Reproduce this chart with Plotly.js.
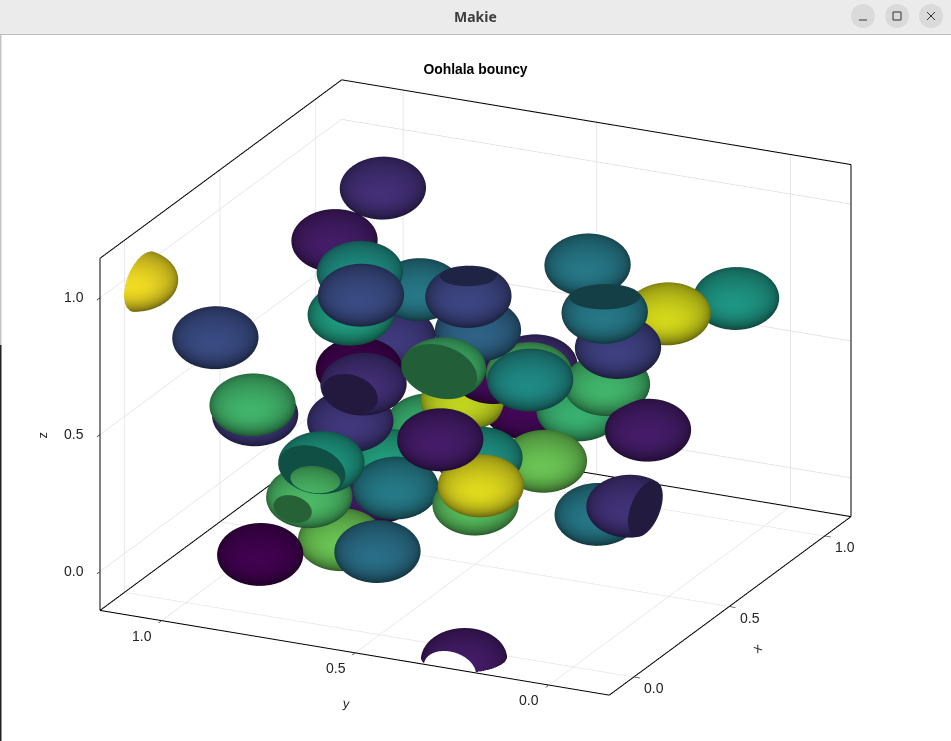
<!DOCTYPE html>
<html>
<head>
<meta charset="utf-8">
<script src="https://cdn.plot.ly/plotly-3.0.1.min.js"></script>
<style>html,body{margin:0;padding:0;background:#fff;overflow:hidden}#chart{width:951px;height:741px}</style>
</head>
<body>
<div id="chart"></div>
<script>
// sphere centres and colour values
const xs = [.739,.581,.470,.342,.469,.721,.888,.451,.544,.860,.666,.761,.696,.598,.627,.481,.350,.222,.472,.625,.341,.492,.465,.595,.224,.254,.339,.234,.139,.249,.162,.307,.096,-.049,.805,.487,.569,.645,.789,.596,.734,.960,.815,.654,.500,.853,.639,.487];
const ys = [.856,.903,.783,.717,.806,.909,.905,.764,.844,.798,.804,.658,.548,.541,.707,.508,.509,.453,.475,.384,.407,.495,.688,.799,.761,.807,.767,.621,.877,1.047,.908,.973,1.179,.258,.360,.159,.165,.231,.373,.101,.118,.053,.502,.437,.358,.541,.252,.095];
const zs = [1.025,.904,.873,.871,.715,.362,.393,.479,.277,.112,.080,.287,.446,.652,.747,.844,.647,.467,.266,.197,.248,.083,.110,.002,.310,.159,-.032,.013,-.009,.686,.518,.392,.943,-.150,.827,.865,.693,.503,.303,.392,.742,.697,.420,.490,.564,.238,.027,.172];
const values = [.14,.08,.52,.24,.58,0,.18,.14,.17,.68,.6,.92,.03,.33,.42,.22,.7,.08,.54,.78,.97,.75,.43,.08,.56,.72,.78,.38,0,.24,.7,.18,1,.08,.42,.42,.2,.7,.68,.08,.95,.55,.14,.72,.5,.02,.42,.15];
// cut spheres: index, side removed, plane offset, inside style
const cutIndex = [15,35,16,7,24,25,47,33];
const cutAxis  = ['+z','+z','-x','-x','-x','-x','-y','-x'];
const cutOffset= [.75,.57,.2,.7,.5,.87,.41,.74];
const cutWhite = [0,0,0,0,0,0,0,1];
const radius = 0.1;
const xRange = [-.131,1.137], yRange = [-.158,1.159], zRange = [-.142,1.146];
const tickVals = [0,.5,1], tickText = ['0.0','0.5','1.0'];
const eyeDir = [-.846,-.4015,.3505], boxScale = 1.597;
const W = 951, H = 741, barH = 35;

const axisMap = {x:0,y:1,z:2};
function latMesh(cx,cy,cz,r,axis,off){
  const ai=axisMap[axis?axis[1]:'z'], sgn=axis&&axis[0]==='-'?-1:1, top=axis?off:1;
  const nLat=32,nLon=56,X=[],Y=[],Z=[],I=[],J=[],K=[];
  const tMin=Math.acos(top);
  for(let i=0;i<=nLat;i++){
    const t=tMin+(Math.PI-tMin)*i/nLat, al=Math.cos(t), rho=Math.sin(t);
    for(let j=0;j<nLon;j++){
      const a=sgn*2*Math.PI*j/nLon, v=[0,0,0];
      v[ai]=sgn*al; v[(ai+1)%3]=rho*Math.cos(a); v[(ai+2)%3]=rho*Math.sin(a);
      X.push(cx+r*v[0]);Y.push(cy+r*v[1]);Z.push(cz+r*v[2]);
    }
  }
  for(let i=0;i<nLat;i++)for(let j=0;j<nLon;j++){
    const a=i*nLon+j,b=i*nLon+(j+1)%nLon,c=a+nLon,d=b+nLon;
    I.push(a,b);J.push(c,c);K.push(b,d);
  }
  return {X,Y,Z,I,J,K};
}
function capMesh(cx,cy,cz,r,axis,off){
  const ai=axisMap[axis[1]], sgn=axis[0]==='-'?-1:1, rho=Math.sqrt(1-off*off);
  const X=[],Y=[],Z=[],I=[],J=[],K=[],n=64;
  const push=(v)=>{X.push(cx+r*v[0]);Y.push(cy+r*v[1]);Z.push(cz+r*v[2]);};
  const c=[0,0,0];c[ai]=sgn*off;push(c);
  for(let j=0;j<n;j++){const a=2*Math.PI*j/n,v=[0,0,0];v[ai]=sgn*off;v[(ai+1)%3]=rho*Math.cos(a);v[(ai+2)%3]=rho*Math.sin(a);push(v);
    I.push(0);J.push(j+1);K.push((j+1)%n+1);}
  return {X,Y,Z,I,J,K};
}
const lit = {ambient:.45,diffuse:.5,specular:.12,roughness:.35,fresnel:0};
const flat = {ambient:.5,diffuse:0,specular:0,roughness:1,fresnel:0};
function mesh(g,v,lighting,scale){
  return {type:'mesh3d',x:g.X,y:g.Y,z:g.Z,i:g.I,j:g.J,k:g.K,
    intensity:g.X.map(()=>v),cmin:0,cmax:1,colorscale:scale||'Viridis',
    showscale:false,hoverinfo:'skip',lighting,flatshading:false,
    lightposition:{x:800,y:6000,z:-8000}};
}
const data=[];
xs.forEach((x,i)=>{
  const k=cutIndex.indexOf(i);
  const axis=k>=0?cutAxis[k]:null, off=k>=0?cutOffset[k]:1;
  data.push(mesh(latMesh(x,ys[i],zs[i],radius,axis,off),values[i],lit));
  if(k>=0){
    if(cutWhite[k]) data.push(mesh(capMesh(x,ys[i],zs[i],radius,axis,off),values[i],{ambient:1,diffuse:0,specular:0,roughness:1,fresnel:0},[[0,'#ffffff'],[1,'#ffffff']]));
    else data.push(mesh(latMesh(x,ys[i],zs[i],radius*.992,axis,off),values[i],flat));
  }
});
// axis frame: the outlines of the three back walls, a hair inside the clip box
const e=.001;
const x0=xRange[0]+e,x1=xRange[1]-e,y0=yRange[0]+e,y1=yRange[1]-e,z0=zRange[0]+e,z1=zRange[1]-e;
const fx=[x0,x1,null,x0,x1,null,x0,x1,null,x0,x0,null,x0,x0,null,x0,x0,null,x1,x1,null,x1,x1,null,x1,x1];
const fy=[y0,y0,null,y1,y1,null,y1,y1,null,y0,y1,null,y0,y0,null,y1,y1,null,y1,y0,null,y1,y0,null,y0,y0];
const fz=[z0,z0,null,z0,z0,null,z1,z1,null,z0,z0,null,z0,z0,null,z0,z1,null,z0,z0,null,z1,z1,null,z0,z1];
data.push({type:'scatter3d',mode:'lines',x:fx,y:fy,z:fz,line:{color:'#000',width:2},hoverinfo:'skip',showlegend:false,connectgaps:false});

function axis(range){
  return {range,title:{text:''},tickvals:tickVals,ticktext:tickText,showticklabels:false,
    ticks:'outside',ticklen:6,tickwidth:1.5,tickcolor:'#111',showline:false,zeroline:false,
    gridcolor:'#dedede',gridwidth:1.5,showbackground:false,showspikes:false,autorange:false};
}
// tick labels and axis titles as real text anchored at the axis edges
const tf={family:'Liberation Sans',size:14,color:'#222'};
const sceneNotes=[];
tickVals.forEach((v,i)=>{
  sceneNotes.push({x:v,y:yRange[0],z:zRange[0],text:tickText[i],showarrow:false,font:tf,xshift:20,yshift:-11});
  sceneNotes.push({x:xRange[0],y:v,z:zRange[0],text:tickText[i],showarrow:false,font:tf,xshift:-19,yshift:-15});
  sceneNotes.push({x:xRange[0],y:yRange[1],z:v,text:tickText[i],showarrow:false,font:tf,xanchor:'right',xshift:-13,yshift:1});
});
const tt={family:'Liberation Sans',size:13,color:'#222'};
sceneNotes.push({x:.5,y:yRange[0],z:zRange[0],text:'x',showarrow:false,font:tt,textangle:-36,xshift:28,yshift:-41});
sceneNotes.push({x:xRange[0],y:.5,z:zRange[0],text:'y',showarrow:false,font:tt,textangle:10,xshift:-8,yshift:-50});
sceneNotes.push({x:xRange[0],y:yRange[1],z:.5,text:'z',showarrow:false,font:tt,textangle:-90,xshift:-57,yshift:0});

const px=v=>v/W, py=v=>1-v/H;
const shapes=[
 {type:'rect',xref:'paper',yref:'paper',x0:0,x1:1,y0:py(barH),y1:1,fillcolor:'#ebebeb',line:{width:0}},
 {type:'line',xref:'paper',yref:'paper',x0:0,x1:1,y0:py(34.5),y1:py(34.5),line:{color:'#bdbdbd',width:1}},
 {type:'rect',xref:'paper',yref:'paper',x0:0,x1:px(1.5),y0:py(345),y1:py(35),fillcolor:'#c4c4c4',line:{width:0}},
 {type:'rect',xref:'paper',yref:'paper',x0:0,x1:px(1.5),y0:0,y1:py(345),fillcolor:'#222222',line:{width:0}}
];
[863,897,931].forEach(cx=>shapes.push({type:'circle',xref:'paper',yref:'paper',x0:px(cx-12),x1:px(cx+12),y0:py(28),y1:py(4),fillcolor:'#dadada',line:{width:0}}));
const ic={color:'#333',width:1};
shapes.push({type:'line',xref:'paper',yref:'paper',x0:px(859),x1:px(867),y0:py(20),y1:py(20),line:ic});
shapes.push({type:'rect',xref:'paper',yref:'paper',x0:px(893),x1:px(901),y0:py(20),y1:py(12),line:ic});
shapes.push({type:'line',xref:'paper',yref:'paper',x0:px(927),x1:px(935),y0:py(20),y1:py(12),line:ic});
shapes.push({type:'line',xref:'paper',yref:'paper',x0:px(927),x1:px(935),y0:py(12),y1:py(20),line:ic});
const layout={
 width:W,height:H,margin:{l:0,r:0,t:0,b:0},paper_bgcolor:'#fff',showlegend:false,
 title:{text:'<b>Oohlala bouncy</b>',font:{family:'Liberation Sans',size:13.9,color:'#000'},x:.5,xanchor:'center',y:1-69/H,yanchor:'middle'},
 shapes,
 annotations:[{text:'<b>Makie</b>',xref:'paper',yref:'paper',x:.5,y:py(16.5),yanchor:'middle',showarrow:false,font:{family:'Noto Sans',size:14,color:'#3d3d3d'}}],
 scene:{domain:{x:[0,1],y:[0,1-34/H]},
   aspectmode:'manual',aspectratio:{x:boxScale,y:boxScale,z:.667*boxScale},
   camera:{projection:{type:'orthographic'},up:{x:0,y:0,z:1},center:{x:0,y:0,z:0},
     eye:{x:eyeDir[0]*1.75,y:eyeDir[1]*1.75,z:eyeDir[2]*1.75}},
   annotations:sceneNotes,
   xaxis:axis(xRange),yaxis:axis(yRange),zaxis:axis(zRange)}
};
Plotly.newPlot('chart',data,layout,{displayModeBar:false});
</script>
</body>
</html>
